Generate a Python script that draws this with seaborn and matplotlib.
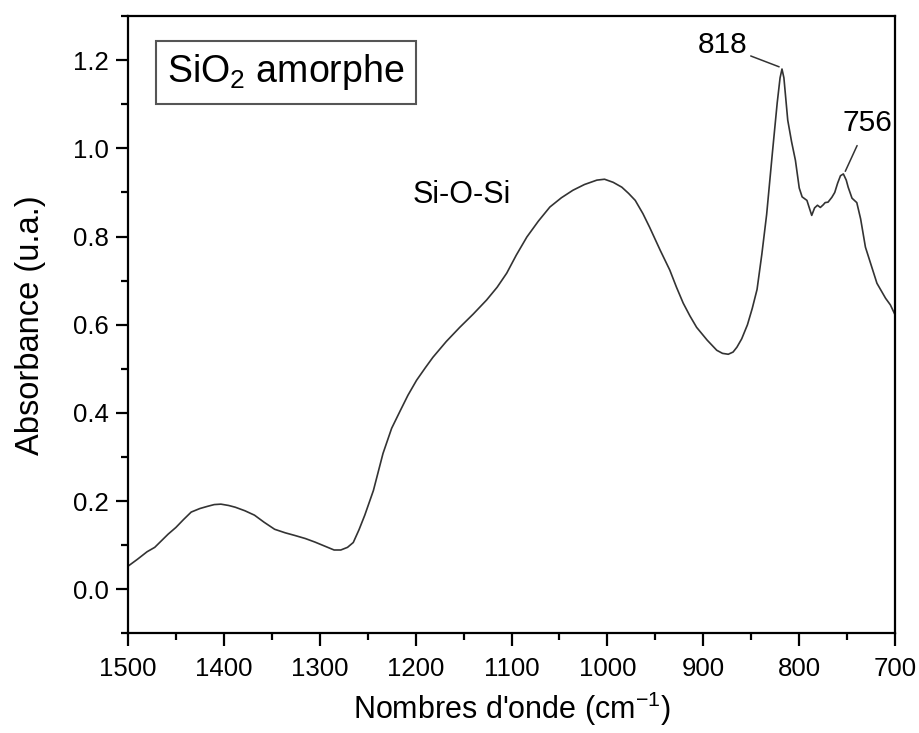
import pandas as pd
import matplotlib.pyplot as plt
import seaborn as sns
from matplotlib.ticker import MultipleLocator

# FTIR spectrum of amorphous SiO2
wavenumber = [1500, 1490, 1480, 1472, 1465, 1458, 1450, 1442, 1434, 1425, 1417,
              1410, 1403, 1395, 1388, 1378, 1368, 1358, 1347, 1336, 1326, 1315,
              1305, 1295, 1285, 1278, 1271, 1265, 1259, 1253, 1244, 1234, 1225,
              1216, 1208, 1199, 1190, 1182, 1168, 1154, 1140, 1126, 1115, 1105,
              1095, 1084, 1072, 1060, 1048, 1036, 1024, 1011, 1003, 994, 985, 978,
              971, 963, 956, 945, 935, 928, 921, 914, 907, 896, 886, 880, 874, 869,
              865, 860, 854, 849, 844, 839, 834, 828, 823, 820, 818, 816, 812, 808,
              804, 800, 797, 792, 787, 784, 781, 778, 775, 773, 770, 766, 763, 760,
              757, 754, 751, 749, 745, 740, 736, 731, 725, 719, 710, 705, 700]
absorbance = [0.052, 0.068, 0.085, 0.095, 0.110, 0.125, 0.140, 0.158, 0.175, 0.183, 0.188,
              0.192, 0.193, 0.190, 0.186, 0.178, 0.168, 0.152, 0.136, 0.128, 0.122, 0.115,
              0.107, 0.098, 0.089, 0.089, 0.095, 0.106, 0.135, 0.168, 0.224, 0.308, 0.365,
              0.405, 0.440, 0.474, 0.502, 0.526, 0.562, 0.594, 0.624, 0.656, 0.685, 0.717,
              0.758, 0.799, 0.835, 0.867, 0.888, 0.905, 0.918, 0.928, 0.930, 0.923, 0.912,
              0.898, 0.882, 0.852, 0.821, 0.769, 0.724, 0.685, 0.649, 0.620, 0.594, 0.565,
              0.542, 0.535, 0.533, 0.538, 0.549, 0.568, 0.600, 0.637, 0.680, 0.760, 0.850,
              0.990, 1.103, 1.160, 1.180, 1.160, 1.064, 1.015, 0.973, 0.910, 0.890, 0.882,
              0.848, 0.865, 0.871, 0.866, 0.872, 0.877, 0.878, 0.889, 0.900, 0.921, 0.938,
              0.942, 0.928, 0.912, 0.887, 0.877, 0.840, 0.776, 0.735, 0.694, 0.660, 0.645,
              0.622]

df = pd.DataFrame({"wavenumber": wavenumber, "absorbance": absorbance})

sns.set_style("ticks")
plt.rcParams['font.family'] = ['Liberation Sans', 'DejaVu Sans']
plt.rcParams['mathtext.fontset'] = 'custom'
plt.rcParams['mathtext.rm'] = 'Liberation Sans'
plt.rcParams['mathtext.it'] = 'Liberation Sans:italic'
plt.rcParams['text.color'] = 'black'
plt.rcParams['axes.labelcolor'] = 'black'
plt.rcParams['xtick.color'] = 'black'
plt.rcParams['ytick.color'] = 'black'

fig = plt.figure(figsize=(9.2, 7.33), dpi=100)
ax = fig.add_axes([0.139, 0.136, 0.834, 0.842])

sns.lineplot(data=df, x="wavenumber", y="absorbance", ax=ax,
             color="#333333", linewidth=1.2)

ax.set_xlim(1500, 700)
ax.set_ylim(-0.1, 1.3)
ax.xaxis.set_major_locator(MultipleLocator(100))
ax.xaxis.set_minor_locator(MultipleLocator(50))
ax.yaxis.set_major_locator(MultipleLocator(0.2))
ax.yaxis.set_minor_locator(MultipleLocator(0.1))
ax.yaxis.set_major_formatter(plt.FormatStrFormatter("%.1f"))

ax.tick_params(which="major", length=9, width=1.6, labelsize=18.5, direction="out")
ax.tick_params(axis="x", which="major", pad=8)
ax.tick_params(axis="y", which="major", pad=5)
ax.tick_params(which="minor", length=5, width=1.6, direction="out")
for sp in ax.spines.values():
    sp.set_linewidth(1.6)
    sp.set_color("black")

ax.set_xlabel("Nombres d'onde (cm$^{-1}$)", fontsize=22, labelpad=6)
ax.set_ylabel("Absorbance (u.a.)", fontsize=23.5, labelpad=19)

# annotations
ax.text(0.051, 0.909, "SiO$_2$ amorphe", transform=ax.transAxes, fontsize=27,
        ha="left", va="center",
        bbox=dict(boxstyle="square,pad=0.3", facecolor="white", edgecolor="#555555", lw=1.5))
ax.text(1152, 0.894, "Si-O-Si", fontsize=22, ha="center", va="center")
ax.annotate("818", xy=(821, 1.185), xytext=(854, 1.234), fontsize=21.5,
            ha="right", va="center",
            arrowprops=dict(arrowstyle="-", color="#333333", lw=1.1, shrinkA=0, shrinkB=0))
ax.annotate("756", xy=(752, 0.948), xytext=(729, 1.057), fontsize=21.5,
            ha="center", va="center",
            arrowprops=dict(arrowstyle="-", color="#333333", lw=1.1, shrinkA=4, shrinkB=0))

fig.savefig("out.png", dpi=100)
